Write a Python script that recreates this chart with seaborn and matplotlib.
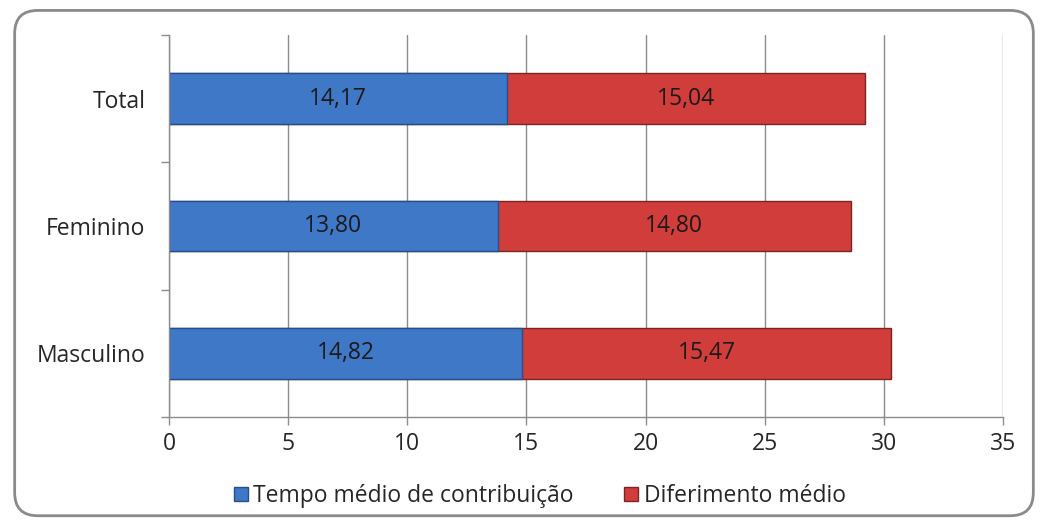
import pandas as pd
import seaborn as sns
import matplotlib.pyplot as plt
from matplotlib.patches import FancyBboxPatch, Patch

categorias = ['Total', 'Feminino', 'Masculino']
tempo_contribuicao = [14.17, 13.80, 14.82]
diferimento = [15.04, 14.80, 15.47]
xticks = [0, 5, 10, 15, 20, 25, 30, 35]

df = pd.DataFrame({'categoria': categorias,
                   'tempo': tempo_contribuicao,
                   'diferimento': diferimento})
df['total'] = df['tempo'] + df['diferimento']

blue = '#3f78c6'
red = '#d13d3b'
grid_gray = '#8c8c8c'
fs = 16.5

sns.set_style('white')
plt.rcParams['font.family'] = ['Open Sans', 'DejaVu Sans']

fig = plt.figure(figsize=(10.48, 5.22), dpi=100)
ax = fig.add_axes([0.1613, 0.2011, 0.7958, 0.732])

# stacked bars: full length in red, blue part over it
sns.barplot(data=df, x='total', y='categoria', orient='h', color=red,
            width=0.4, edgecolor='#7a2424', linewidth=1, saturation=1, ax=ax)
sns.barplot(data=df, x='tempo', y='categoria', orient='h', color=blue,
            width=0.4, edgecolor='#234f8c', linewidth=1, saturation=1, ax=ax)

for i, row in df.iterrows():
    ax.text(row['tempo'] / 2, i, f"{row['tempo']:.2f}".replace('.', ','),
            ha='center', va='center', fontsize=fs, color='#1a1a1a')
    ax.text(row['tempo'] + row['diferimento'] / 2, i,
            f"{row['diferimento']:.2f}".replace('.', ','),
            ha='center', va='center', fontsize=fs, color='#1a1a1a')

ax.set_xlim(0, 35)
ax.set_ylim(2.5, -0.5)
ax.set_xticks(xticks)
ax.set_xticklabels([str(t) for t in xticks], fontsize=fs, color='#262626')
ax.set_yticks(range(len(categorias)))
ax.set_yticklabels(categorias, fontsize=fs, color='#262626')
ax.set_yticks([-0.5, 0.5, 1.5, 2.5], minor=True)
ax.tick_params(axis='y', which='major', left=True, length=0, pad=17)
ax.tick_params(axis='y', which='minor', left=True, length=6,
               color=grid_gray, width=1)
ax.tick_params(axis='x', bottom=True, length=6, color=grid_gray, width=1,
               pad=5)
ax.set_xlabel('')
ax.set_ylabel('')

ax.grid(axis='x', color=grid_gray, linewidth=1)
ax.set_axisbelow(True)
for side in ['top', 'right']:
    ax.spines[side].set_visible(False)
for side in ['left', 'bottom']:
    ax.spines[side].set_color(grid_gray)
    ax.spines[side].set_linewidth(1)

handles = [Patch(facecolor=blue, edgecolor='#234f8c'),
           Patch(facecolor=red, edgecolor='#7a2424')]
fig.legend(handles, ['Tempo médio de contribuição', 'Diferimento médio'],
           loc='center', bbox_to_anchor=(0.515, 0.05), ncol=2, frameon=False,
           fontsize=fs, handlelength=0.6, handleheight=0.6, handletextpad=0.25,
           columnspacing=2.2)

# rounded chart border
border = FancyBboxPatch((0.014, 0.012), 0.972, 0.968,
                        boxstyle='round,pad=0,rounding_size=0.022',
                        transform=fig.transFigure, facecolor='none',
                        edgecolor='#8a8a8a', linewidth=2, mutation_aspect=2.0)
fig.patches.append(border)

fig.savefig('out.png', dpi=100)
